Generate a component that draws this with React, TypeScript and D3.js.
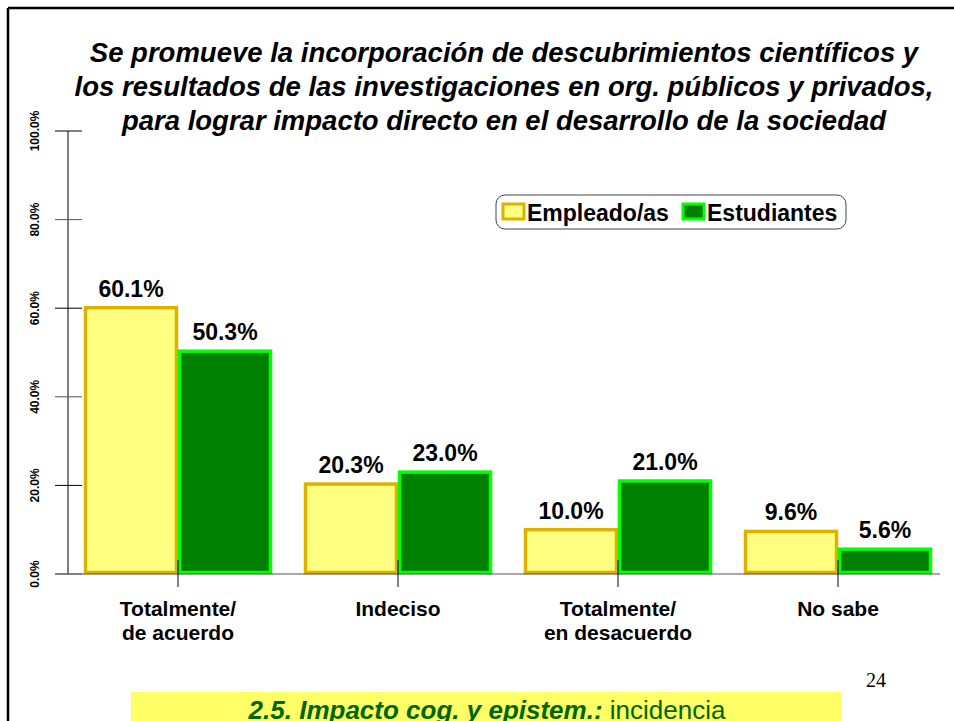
import React from "react";
import * as d3 from "d3";

const categories = [["Totalmente/", "de acuerdo"], ["Indeciso"], ["Totalmente/", "en desacuerdo"], ["No sabe"]];
const seriesNames = ["Empleado/as", "Estudiantes"];
const empleados = [60.1, 20.3, 10.0, 9.6];
const estudiantes = [50.3, 23.0, 21.0, 5.6];
const yTicks = [0, 20, 40, 60, 80, 100];
const titleLines = [
  "Se promueve la incorporación de descubrimientos científicos y",
  "los resultados de las investigaciones en org. públicos y privados,",
  "para lograr impacto directo en el desarrollo de la sociedad",
];

const W = 954;
const H = 721;
const FONT = "'Liberation Sans', Arial, sans-serif";
const fills = ["#FFFF80", "#008000"];
const strokes = ["#E0B000", "#00FF00"];

export default function App() {
  const x = d3.scaleBand<number>().domain(d3.range(categories.length)).range([68, 948]).paddingInner(0).paddingOuter(0);
  const y = d3.scaleLinear().domain([0, 100]).range([574, 131]);
  const series = [empleados, estudiantes];
  const groupW = 188;
  const barW = groupW / 2;

  return (
    <svg width={W} height={H} style={{ position: "absolute", left: 0, top: 0, background: "#fff" }} fontFamily={FONT}>
      {/* slide frame */}
      <line x1={8} y1={8} x2={W} y2={8} stroke="#000" strokeWidth={2.5} />
      <line x1={8} y1={8} x2={8} y2={H} stroke="#000" strokeWidth={2.5} />

      {/* title */}
      {titleLines.map((t, i) => (
        <text key={i} x={504} y={62 + i * 34} textAnchor="middle" fontSize={27.5} fontWeight="bold" fontStyle="italic" fill="#000">
          {t}
        </text>
      ))}

      {/* y axis */}
      <line x1={68} y1={y(100)} x2={68} y2={y(0)} stroke="#000" strokeWidth={1} />
      {yTicks.map((t) => (
        <g key={t}>
          <line x1={55} x2={82} y1={y(t)} y2={y(t)} stroke={t % 40 === 0 ? "#555" : "#000"} strokeWidth={1} />
          <text
            transform={`translate(39,${y(t)}) rotate(-90)`}
            textAnchor="middle"
            fontSize={12}
            fontWeight="bold"
            fill="#000"
          >
            {d3.format(".1f")(t) + "%"}
          </text>
        </g>
      ))}

      {/* bars */}
      {categories.map((c, i) => {
        const cx = x(i)! + x.bandwidth() / 2;
        return (
          <g key={i}>
            {series.map((s, k) => {
              const bx = cx - groupW / 2 + k * barW;
              return (
                <rect
                  key={k}
                  x={bx + 1.5}
                  y={y(s[i])}
                  width={barW - 3}
                  height={y(0) - y(s[i]) - 1.5}
                  fill={fills[k]}
                  stroke={strokes[k]}
                  strokeWidth={3.5}
                />
              );
            })}
          </g>
        );
      })}

      {/* x baseline */}
      <line x1={55} x2={940} y1={y(0)} y2={y(0)} stroke="#555" strokeWidth={1.2} />
      {categories.map((c, i) => {
        const cx = x(i)! + x.bandwidth() / 2;
        return (
          <g key={i}>
            <line x1={cx} x2={cx} y1={y(0) - 14} y2={y(0) + 13} stroke="#000" strokeWidth={1} />
            {c.map((line, j) => (
              <text key={j} x={cx} y={616 + j * 24} textAnchor="middle" fontSize={21} fontWeight="bold" fill="#000">
                {line}
              </text>
            ))}
          </g>
        );
      })}

      {/* value labels */}
      {categories.map((c, i) => {
        const cx = x(i)! + x.bandwidth() / 2;
        return series.map((s, k) => {
          const bx = cx - groupW / 2 + k * barW + barW / 2;
          return (
            <text key={`${i}-${k}`} x={bx} y={y(s[i]) - 11} textAnchor="middle" fontSize={23} fontWeight="bold" fill="#000">
              {d3.format(".1f")(s[i]) + "%"}
            </text>
          );
        });
      })}

      {/* legend */}
      <rect x={496} y={195} width={350} height={34} rx={9} ry={9} fill="#fff" stroke="#444" strokeWidth={1} />
      {seriesNames.map((n, k) => {
        const lx = k === 0 ? 503 : 683;
        return (
          <g key={n}>
            <rect x={lx} y={204} width={21} height={15} fill={fills[k]} stroke={strokes[k]} strokeWidth={3} />
            <text x={lx + 24} y={221} fontSize={23} fontWeight="bold" fill="#000">
              {n}
            </text>
          </g>
        );
      })}

      {/* page number */}
      <text x={876} y={687} textAnchor="middle" fontSize={20} fontFamily="'Liberation Serif', 'Times New Roman', serif" fill="#000">
        24
      </text>

      {/* bottom banner */}
      <rect x={131} y={692} width={711} height={29} fill="#FFFF66" />
      <text x={487} y={719} textAnchor="middle" fontSize={26} fill="#006600">
        <tspan fontWeight="bold" fontStyle="italic">2.5. Impacto cog. y epistem.:</tspan>
        <tspan> incidencia</tspan>
      </text>
    </svg>
  );
}
